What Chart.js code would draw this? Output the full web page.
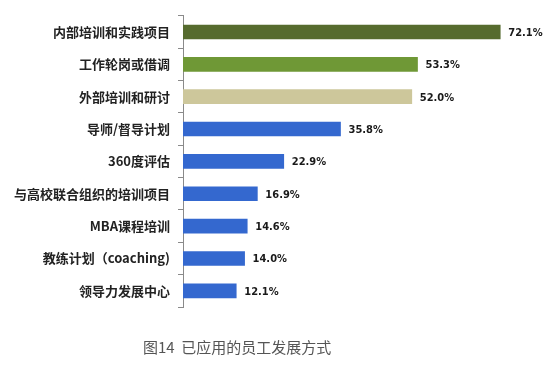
<!DOCTYPE html>
<html>
<head>
<meta charset="utf-8">
<script src="https://cdn.jsdelivr.net/npm/chart.js@4"></script>
<style>
  html, body { margin: 0; padding: 0; background: #fff; }
  #wrap { width: 554px; height: 369px; position: relative; }
  #legenda {
    position: absolute; left: 143px; top: 337px;
    font: 15px/20px "Noto Sans CJK SC", sans-serif; color: #555;
    white-space: pre;
  }
</style>
</head>
<body>
<div id="wrap">
  <canvas id="chartMetodos"></canvas>
  <div id="legenda"></div>
</div>
<script>
// Dados do gráfico
const categorias = [
  '内部培训和实践项目',
  '工作轮岗或借调',
  '外部培训和研讨',
  '导师/督导计划',
  '360度评估',
  '与高校联合组织的培训项目',
  'MBA课程培训',
  '教练计划（coaching)',
  '领导力发展中心'
];
const valores = [72.1, 53.3, 52.0, 35.8, 22.9, 16.9, 14.6, 14.0, 12.1];
const cores = ['#566b2e', '#6f9836', '#cdc79b', '#3468cf', '#3468cf', '#3468cf', '#3468cf', '#3468cf', '#3468cf'];
const titulo = '图14  已应用的员工发展方式';

document.getElementById('legenda').textContent = titulo;

// Rótulos de valor no fim de cada barra
const rotulosValor = {
  id: 'rotulosValor',
  afterDatasetsDraw(chart) {
    const ctx = chart.ctx;
    const meta = chart.getDatasetMeta(0);
    ctx.save();
    ctx.font = 'bold 11px "Liberation Sans Narrow", "DejaVu Sans Condensed", Arial, sans-serif';
    ctx.fillStyle = '#1a1a1a';
    ctx.textAlign = 'left';
    ctx.textBaseline = 'middle';
    meta.data.forEach((bar, i) => {
      ctx.fillText(valores[i].toFixed(1) + '%', bar.x + 8, bar.y + 1);
    });
    ctx.restore();
  }
};

const ctx = document.getElementById('chartMetodos').getContext('2d');
const chart = new Chart(ctx, {
  type: 'bar',
  data: {
    labels: categorias,
    datasets: [{
      data: valores,
      backgroundColor: cores,
      borderWidth: 0,
      barThickness: 14
    }]
  },
  options: {
    indexAxis: 'y',
    responsive: true,
    maintainAspectRatio: false,
    animation: false,
    layout: { padding: { left: 0, right: 19, top: 13, bottom: 62 } },
    plugins: {
      legend: { display: false },
      tooltip: { enabled: false },
      title: { display: false }
    },
    scales: {
      x: {
        display: false,
        min: 0,
        max: 80
      },
      y: {
        afterFit: scale => { scale.width = 183; },
        border: { display: true, color: '#8a8a8a', width: 1 },
        grid: {
          drawOnChartArea: false,
          drawTicks: true,
          tickLength: 5,
          color: '#8a8a8a'
        },
        ticks: {
          padding: 8,
          color: '#222',
          font: { family: '"Noto Sans CJK SC", sans-serif', size: 13, weight: 'bold' }
        }
      }
    }
  },
  plugins: [rotulosValor]
});
</script>
</body>
</html>
